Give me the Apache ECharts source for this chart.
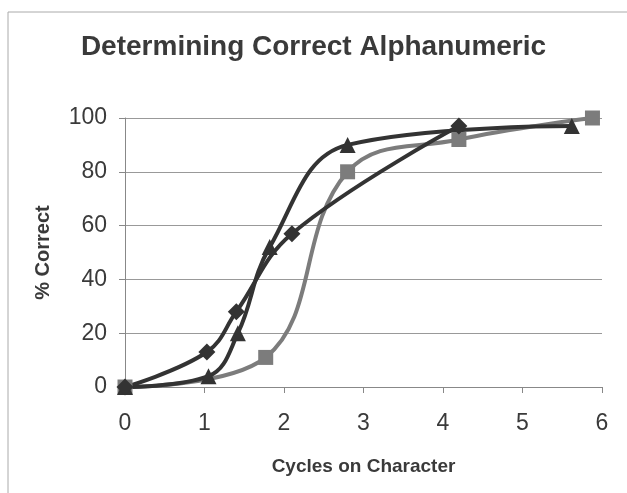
<!DOCTYPE html>
<html>
<head>
<meta charset="utf-8">
<script src="https://cdn.jsdelivr.net/npm/echarts@6/dist/echarts.min.js"></script>
<style>
  html, body { margin: 0; padding: 0; background: #fff; }
  #main { width: 627px; height: 493px; }
</style>
</head>
<body>
<div id="main"></div>
<script>
// data: [cycles, % correct]
const diamondPts = [[0, 0], [1.03, 13], [1.4, 28], [2.1, 57], [4.2, 97]];
const squarePts = [[0, 0], [1.77, 11], [2.8, 80], [4.2, 92], [5.88, 100]];
const trianglePts = [[0, 0], [1.05, 4], [1.42, 20], [1.82, 52], [2.8, 90], [5.62, 97]];

const xTicks = [0, 1, 2, 3, 4, 5, 6];
const yTicks = [0, 20, 40, 60, 80, 100];

const dark = '#333333';
const grey = '#7c7c7c';
const font = 'Liberation Sans, Arial, sans-serif';

const chart = echarts.init(document.getElementById('main'));

function lineSeries(name, pts, color, symbol, size) {
  return {
    name: name,
    type: 'line',
    data: pts,
    smooth: 0.4,
    symbol: symbol,
    symbolSize: size,
    lineStyle: { color: color, width: 4 },
    itemStyle: { color: color },
    z: 3
  };
}

chart.setOption({
  backgroundColor: '#fff',
  animation: false,
  title: {
    text: 'Determining Correct Alphanumeric',
    left: 'center',
    top: 28,
    textStyle: { fontFamily: font, fontSize: 28, fontWeight: 'bold', color: '#3a3a3a' }
  },
  grid: { left: 125, right: 25, top: 118, bottom: 106 },
  xAxis: {
    type: 'value',
    min: xTicks[0],
    max: xTicks[xTicks.length - 1],
    interval: 1,
    name: 'Cycles on Character',
    nameLocation: 'middle',
    nameGap: 70,
    nameTextStyle: { fontFamily: font, fontSize: 19, fontWeight: 'bold', color: '#3a3a3a' },
    axisLine: { show: true, lineStyle: { color: '#888', width: 1 } },
    axisTick: { show: true, length: 6, lineStyle: { color: '#888' } },
    axisLabel: { fontFamily: font, fontSize: 23, color: '#3a3a3a', margin: 25 },
    splitLine: { show: false }
  },
  yAxis: {
    type: 'value',
    min: yTicks[0],
    max: yTicks[yTicks.length - 1],
    interval: 20,
    name: '% Correct',
    nameLocation: 'middle',
    nameGap: 72,
    nameTextStyle: { fontFamily: font, fontSize: 20, fontWeight: 'bold', color: '#3a3a3a' },
    axisLine: { show: true, lineStyle: { color: '#888', width: 1 } },
    axisTick: { show: true, length: 6, lineStyle: { color: '#888' } },
    axisLabel: { fontFamily: font, fontSize: 23, color: '#3a3a3a', margin: 18 },
    splitLine: { show: true, lineStyle: { color: '#999', width: 1 } }
  },
  graphic: [{
    type: 'rect',
    shape: { x: 8, y: 12, width: 700, height: 600 },
    style: { fill: 'none', stroke: '#aaa', lineWidth: 1 },
    silent: true,
    z: -1
  }],
  series: [
    lineSeries('Squares', squarePts, grey, 'rect', 15),
    lineSeries('Triangles', trianglePts, dark, 'triangle', 16),
    lineSeries('Diamonds', diamondPts, dark, 'diamond', 17)
  ]
});
</script>
</body>
</html>
